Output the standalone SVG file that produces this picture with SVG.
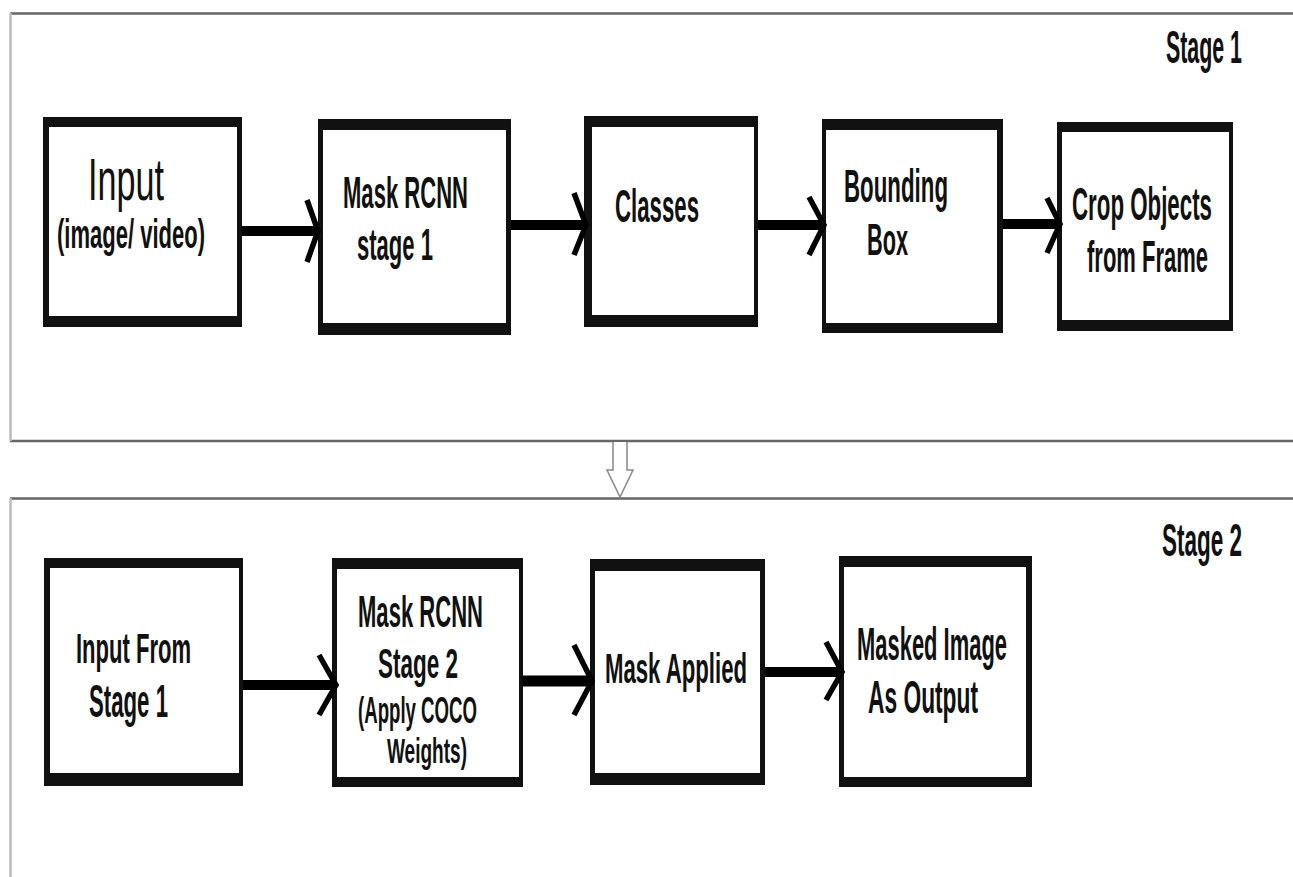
<svg xmlns="http://www.w3.org/2000/svg" width="1293" height="877" viewBox="0 0 1293 877">
<style>
.panelEdge{stroke:#666;stroke-width:2.5;fill:none}
.panelSide{stroke:#bbb;stroke-width:2.5;fill:none}
.outer{fill:#111}
.inner{fill:#fff}
.t{font-family:"Liberation Sans",Arial,sans-serif;fill:#111;font-weight:bold}
.tn{font-family:"Liberation Sans",Arial,sans-serif;fill:#111}
.line{stroke:#000;fill:none}
.head{stroke:#000;stroke-width:5.5;fill:none;stroke-linejoin:miter}
</style>
<rect width="1293" height="877" fill="#fff"/>
<g id="panel1">
<line class="panelEdge" x1="10" y1="13.5" x2="1293" y2="13.5"/>
<line class="panelEdge" x1="10" y1="441" x2="1293" y2="441"/>
<line class="panelSide" x1="10.5" y1="13" x2="10.5" y2="441"/>
<text class="t" x="1166" y="63" font-size="46" textLength="76" lengthAdjust="spacingAndGlyphs">Stage 1</text>
</g>
<g id="panel2">
<line class="panelEdge" x1="10" y1="498.5" x2="1293" y2="498.5"/>
<line class="panelSide" x1="10.5" y1="498" x2="10.5" y2="877"/>
<text class="t" x="1162" y="556" font-size="46" textLength="80" lengthAdjust="spacingAndGlyphs">Stage 2</text>
</g>
<g id="stageArrow">
<path d="M613,442 L613,470 L607,470 L620,497 L633,470 L627,470 L627,442" fill="#fff" stroke="#888" stroke-width="1.5"/>
</g>
<g id="n-input">
<rect class="outer" x="43" y="117" width="199" height="210"/>
<rect class="inner" x="49" y="127" width="188" height="189"/>
<text class="tn" x="88" y="200" font-size="60" textLength="76" lengthAdjust="spacingAndGlyphs">Input</text>
<text class="t" x="57" y="248" font-size="40" textLength="148" lengthAdjust="spacingAndGlyphs">(image/ video)</text>
</g>
<g id="n-maskrcnn1">
<rect class="outer" x="318" y="119" width="193" height="216"/>
<rect class="inner" x="323" y="130" width="183" height="193"/>
<text class="t" x="343" y="208" font-size="44" textLength="125" lengthAdjust="spacingAndGlyphs">Mask RCNN</text>
<text class="t" x="357" y="260" font-size="44" textLength="76" lengthAdjust="spacingAndGlyphs">stage 1</text>
</g>
<g id="n-classes">
<rect class="outer" x="584" y="116" width="174" height="211"/>
<rect class="inner" x="592" y="127" width="162" height="188"/>
<text class="t" x="615" y="222" font-size="47" textLength="84" lengthAdjust="spacingAndGlyphs">Classes</text>
</g>
<g id="n-bbox">
<rect class="outer" x="822" y="119" width="181" height="214"/>
<rect class="inner" x="826" y="130" width="171" height="193"/>
<text class="t" x="844" y="202" font-size="46" textLength="104" lengthAdjust="spacingAndGlyphs">Bounding</text>
<text class="t" x="867" y="255" font-size="44" textLength="41" lengthAdjust="spacingAndGlyphs">Box</text>
</g>
<g id="n-crop">
<rect class="outer" x="1057" y="122" width="176" height="209"/>
<rect class="inner" x="1062" y="132" width="167" height="188"/>
<text class="t" x="1072" y="220" font-size="46" textLength="140" lengthAdjust="spacingAndGlyphs">Crop Objects</text>
<text class="t" x="1087" y="272" font-size="44" textLength="121" lengthAdjust="spacingAndGlyphs">from Frame</text>
</g>
<g id="n-input2">
<rect class="outer" x="44" y="558" width="199" height="228"/>
<rect class="inner" x="50" y="568" width="189" height="205"/>
<text class="t" x="76" y="663" font-size="43" textLength="115" lengthAdjust="spacingAndGlyphs">Input From</text>
<text class="t" x="89" y="717" font-size="46" textLength="79" lengthAdjust="spacingAndGlyphs">Stage 1</text>
</g>
<g id="n-maskrcnn2">
<rect class="outer" x="332" y="558" width="191" height="229"/>
<rect class="inner" x="337" y="569" width="182" height="208"/>
<text class="t" x="358" y="627" font-size="44" textLength="125" lengthAdjust="spacingAndGlyphs">Mask RCNN</text>
<text class="t" x="378" y="678" font-size="43" textLength="80" lengthAdjust="spacingAndGlyphs">Stage 2</text>
<text class="t" x="358" y="723" font-size="36" textLength="119" lengthAdjust="spacingAndGlyphs">(Apply COCO</text>
<text class="t" x="387" y="763" font-size="35" textLength="80" lengthAdjust="spacingAndGlyphs">Weights)</text>
</g>
<g id="n-maskapplied">
<rect class="outer" x="590" y="559" width="175" height="226"/>
<rect class="inner" x="595" y="571" width="165" height="202"/>
<text class="t" x="605" y="683" font-size="43" textLength="142" lengthAdjust="spacingAndGlyphs">Mask Applied</text>
</g>
<g id="n-output">
<rect class="outer" x="839" y="556" width="193" height="231"/>
<rect class="inner" x="844" y="567" width="182" height="210"/>
<text class="t" x="857" y="660" font-size="46" textLength="150" lengthAdjust="spacingAndGlyphs">Masked Image</text>
<text class="t" x="868" y="713" font-size="46" textLength="110" lengthAdjust="spacingAndGlyphs">As Output</text>
</g>
<g id="connectors">
<line class="line" x1="242" y1="231" x2="318" y2="231" stroke-width="10"/>
<polyline class="head" points="307,200 318,231 307,262"/>
<line class="line" x1="511" y1="225" x2="584" y2="225" stroke-width="10"/>
<polyline class="head" points="574,193 586,225 574,255"/>
<line class="line" x1="758" y1="225" x2="822" y2="225" stroke-width="10"/>
<polyline class="head" points="809,197 824,225 809,255"/>
<line class="line" x1="1003" y1="224" x2="1057" y2="224" stroke-width="10"/>
<polyline class="head" points="1047,198 1060,224 1047,253"/>
<line class="line" x1="243" y1="685" x2="332" y2="685" stroke-width="10"/>
<polyline class="head" points="319,655 336,685 319,715"/>
<line class="line" x1="523" y1="681" x2="590" y2="681" stroke-width="11"/>
<polyline class="head" points="574,645 592,681 574,715"/>
<line class="line" x1="765" y1="672" x2="839" y2="672" stroke-width="10"/>
<polyline class="head" points="826,642 842,672 826,700"/>
</g>
</svg>
